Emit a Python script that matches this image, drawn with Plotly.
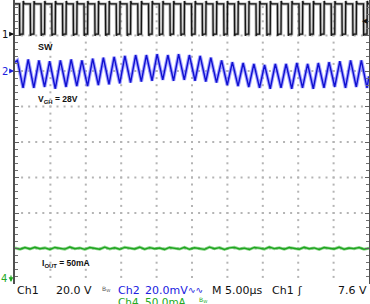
import numpy as np
import plotly.graph_objects as go

time_per_div_us = 5.0
ch1_v_per_div = 20.0
ch2_mv_per_div = 20.0
ch4_ma_per_div = 50.0
ch1_pos_div = 3.04
ch2_pos_div = 2.0
ch4_pos_div = -4.0
trig_level_v = 7.6

# SW node (Ch1): falling-edge times (us)
sw_fall_us = [0.64, 2.16, 3.68, 5.19, 6.71, 8.23, 9.75, 11.27, 12.78, 14.30, 15.82,
              17.34, 18.86, 20.37, 21.89, 23.41, 24.93, 26.45, 27.96, 29.48, 31.00,
              32.52, 34.04, 35.55, 37.07, 38.59, 40.11, 41.63, 43.14, 44.66, 46.18,
              47.70, 49.22]
sw_low_time_us = 0.5
sw_high_v = 17.0
sw_overshoot_v = 18.6
sw_low_v = 0.0
sw_undershoot_v = -1.0

# VGH ripple (Ch2, AC): peak / trough per switching cycle (mV)
vgh_peak_mv = [6.0, 6.5, 6.0, 5.5, 6.0, 6.5, 6.0, 7.0, 7.5, 8.0, 8.5, 9.0, 9.0, 9.5,
               9.0, 9.5, 9.0, 8.5, 7.5, 6.0, 5.0, 4.5, 4.0, 3.5, 4.0, 4.0, 4.5, 4.0,
               4.5, 5.0, 5.5, 6.0, 6.0]
vgh_trough_mv = [-9.5, -9.5, -9.0, -10.0, -9.0, -8.5, -8.5, -8.0, -7.5, -7.0, -6.5,
                 -6.0, -5.5, -5.0, -5.5, -5.0, -5.5, -6.0, -6.5, -8.0, -8.5, -9.0,
                 -9.5, -10.0, -9.5, -10.0, -9.5, -10.0, -9.5, -9.0, -9.5, -9.0, -9.5]
vgh_edge_mv = [5.0, -3.0]

# Output current (Ch4), mA
iout_ma = [50.6, 48.9, 51.4, 49.3, 51.8, 49.6, 50.9, 48.7, 51.5, 50.3, 49.1, 52.0,
           49.7, 50.8, 48.8, 51.3, 50.1, 49.0, 51.9, 49.5, 51.1, 48.9, 51.6, 50.4,
           49.4, 51.8, 49.0, 51.2, 49.7, 50.7, 48.6, 51.5, 50.0, 49.2, 51.7, 48.9,
           51.0, 50.2, 48.8, 51.9, 49.6, 51.2, 48.7, 50.9, 51.6, 49.4, 50.5, 48.6,
           51.5, 50.6, 49.2, 52.0, 49.8, 51.0, 48.9, 51.4, 50.2, 49.0, 51.7, 49.6,
           50.8, 48.7, 51.3, 50.0, 49.4, 51.8, 49.0, 50.6, 49.8, 51.4, 48.9, 50.4]

# ---------------- build traces ----------------
x_end = 10 * time_per_div_us

def v1(v):
    return ch1_pos_div + v / ch1_v_per_div

sw_t, sw_y = [0.0], [v1(sw_high_v)]
for f in sw_fall_us:
    r = f + sw_low_time_us
    sw_t += [f, f + 0.03, f + 0.12, r, r + 0.03, r + 0.15]
    sw_y += [v1(sw_high_v), v1(sw_undershoot_v), v1(sw_low_v), v1(sw_low_v),
             v1(sw_overshoot_v), v1(sw_high_v)]
sw_t.append(x_end)
sw_y.append(v1(sw_high_v))

def v2(mv):
    return ch2_pos_div + mv / ch2_mv_per_div

vg_t, vg_y = [0.0], [v2(vgh_edge_mv[0])]
for f, pk, tr in zip(sw_fall_us, vgh_peak_mv, vgh_trough_mv):
    vg_t += [f - 0.3, f + 0.5]
    vg_y += [v2(pk), v2(tr)]
vg_t.append(x_end)
vg_y.append(v2(vgh_edge_mv[1]))

io_t = np.linspace(0, x_end, len(iout_ma))
io_y = [ch4_pos_div + i / ch4_ma_per_div for i in iout_ma]

fig = go.Figure()

# grid dots
gx, gy = [], []
for i in range(1, 10):
    for j in range(1, 40):
        gx.append(i * 5.0)
        gy.append(-4 + j * 0.2)
for j in range(1, 8):
    for i in range(1, 50):
        gx.append(i * 1.0)
        gy.append(-4 + j)
fig.add_trace(go.Scatter(x=gx, y=gy, mode="markers", hoverinfo="skip",
                         marker=dict(symbol="square", size=2, color="#b4b4b4",
                                     line=dict(width=0))))

# SW
fig.add_trace(go.Scatter(x=sw_t, y=sw_y, mode="lines",
                         line=dict(color="rgba(110,110,110,0.55)", width=3)))
fig.add_trace(go.Scatter(x=sw_t, y=sw_y, mode="lines",
                         line=dict(color="#151515", width=1.3)))
# VGH
fig.add_trace(go.Scatter(x=vg_t, y=vg_y, mode="lines",
                         line=dict(color="rgba(120,120,255,0.7)", width=3.5)))
fig.add_trace(go.Scatter(x=vg_t, y=vg_y, mode="lines",
                         line=dict(color="#1010d0", width=1.4)))
# IOUT
fig.add_trace(go.Scatter(x=io_t, y=io_y, mode="lines",
                         line=dict(color="rgba(70,190,70,0.6)", width=3)))
fig.add_trace(go.Scatter(x=io_t, y=io_y, mode="lines",
                         line=dict(color="#1fa51f", width=1.4)))

fig.update_layout(
    width=370, height=304,
    margin=dict(l=15, r=1, t=0, b=20),
    paper_bgcolor="white", plot_bgcolor="white",
    showlegend=False,
    xaxis=dict(range=[0, x_end], showgrid=False, zeroline=False,
               showticklabels=False, showline=False, ticks=""),
    yaxis=dict(range=[-4, 4], showgrid=False, zeroline=False,
               showticklabels=False, showline=True, linecolor="#505050",
               linewidth=1.5, mirror="ticks", ticks="inside", ticklen=4,
               tickcolor="#606060", dtick=1, tick0=0,
               minor=dict(ticks="inside", ticklen=3, dtick=0.2, tickcolor="#707070")),
)

W, H, L, T = 354.0, 284.0, 15.0, 0.0
DIV_PX = H / 8.0

def px(xp, yp):
    return (xp - L) / W, (H - (yp - T)) / H

BLACK = "#111111"
BLUE = "#2020e0"
GREEN = "#22aa22"
SANS = "DejaVu Sans"
LAB = "Liberation Sans"

def note(text, xp, yp, color=BLACK, size=11, family=SANS, xanchor="left"):
    x, y = px(xp, yp)
    fig.add_annotation(text=text, x=x, y=y, xref="paper", yref="paper",
                       xanchor=xanchor, yanchor="middle", showarrow=False,
                       borderpad=0, font=dict(family=family, size=size, color=color))

def arrow(xp, yp, dx, dy, color):
    x, y = px(xp, yp)
    fig.add_annotation(text="", x=x, y=y, xref="paper", yref="paper",
                       showarrow=True, ax=dx, ay=dy, axref="pixel", ayref="pixel",
                       arrowhead=2, arrowsize=0.8, arrowwidth=1.2, arrowcolor=color,
                       standoff=0, startstandoff=0)

# channel markers
y1 = (4 - ch1_pos_div) * DIV_PX
y2 = (4 - ch2_pos_div) * DIV_PX
note("1", 1, y1, BLACK, 10)
arrow(14, y1, -6, 0, BLACK)
note("2", 1, y2, BLUE, 10)
arrow(14, y2, -6, 0, BLUE)
note("4", 0, 278, GREEN, 10)
arrow(11, 282, 0, -8, GREEN)
note("◀", 369, (4 - v1(trig_level_v)) * DIV_PX, BLACK, 7, SANS, "right")

# waveform labels
note("<b>SW</b>", 37, 47, BLACK, 9, LAB)
note("<b>V<sub>GH</sub> = 28V</b>", 37, 99, BLACK, 8.5, LAB)
note("<b>I<sub>OUT</sub> = 50mA</b>", 41, 263, BLACK, 8.5, LAB)

# status bar
R1, R2 = 290.5, 302
note("Ch1", 16, R1)
note("20.0 V", 55, R1)
note("B<sub>W</sub>", 101, R1 - 2, "#555555", 6)
note("Ch2", 117, R1, BLUE)
note("20.0mV", 144, R1, BLUE)
note("∿∿", 187, R1 - 1, BLUE, 9)
note("M 5.00µs", 211, R1)
note("Ch1", 271, R1)
note("ʃ", 296, R1)
note("7.6 V", 337, R1)
note("Ch4", 117, R2, GREEN, 10.5)
note("50.0mA", 144, R2, GREEN, 10.5)
note("B<sub>W</sub>", 198, R2 - 2, GREEN, 6)

fig.write_html("out.html")
